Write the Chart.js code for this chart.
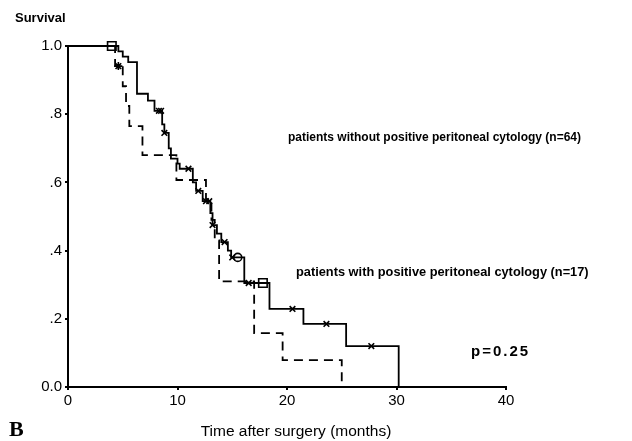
<!DOCTYPE html>
<html>
<head>
<meta charset="utf-8">
<script src="https://cdn.jsdelivr.net/npm/chart.js@4"></script>
<style>
  html, body { margin: 0; padding: 0; background: #fff; }
  canvas { display: block; }
</style>
</head>
<body>
<canvas id="km" width="632" height="441"></canvas>
<script>
// patients without positive peritoneal cytology (n=64) - solid
const solidTime = [0, 4.6, 5.0, 5.5, 6.3, 7.3, 7.9, 8.6, 8.8, 9.2, 9.4, 10.0, 10.2, 11.4, 11.7, 12.3, 13.0, 13.2, 13.6, 14.0, 14.6, 14.9, 16.1, 18.4, 21.5, 25.4, 30.2];
const solidSurv = [1.0, 0.984, 0.969, 0.953, 0.86, 0.84, 0.81, 0.77, 0.745, 0.70, 0.67, 0.655, 0.64, 0.60, 0.575, 0.545, 0.51, 0.475, 0.45, 0.425, 0.40, 0.38, 0.305, 0.229, 0.185, 0.12, 0];
const solidCensorTime = [4.0, 8.3, 8.5, 8.8, 11.0, 11.9, 12.6, 12.9, 13.2, 14.3, 15.0, 15.5, 16.5, 17.8, 20.5, 23.6, 27.7];
const solidCensorSurv = [1.0, 0.81, 0.81, 0.745, 0.64, 0.575, 0.545, 0.545, 0.475, 0.425, 0.38, 0.38, 0.305, 0.305, 0.229, 0.185, 0.12];
const solidCensorMark = ['rect', 'crossRot', 'crossRot', 'crossRot', 'crossRot', 'crossRot', 'crossRot', 'crossRot', 'crossRot', 'crossRot', 'crossRot', 'circle', 'crossRot', 'rect', 'crossRot', 'crossRot', 'crossRot'];

// patients with positive peritoneal cytology (n=17) - dashed
const dashedTime = [0, 4.3, 5.0, 5.3, 5.6, 6.8, 9.9, 12.6, 13.1, 13.4, 13.8, 17.0, 19.6, 25.0];
const dashedSurv = [1.0, 0.941, 0.882, 0.824, 0.765, 0.68, 0.607, 0.55, 0.49, 0.43, 0.31, 0.158, 0.079, 0];
const dashedCensorTime = [4.6];
const dashedCensorSurv = [0.941];

const xTicks = [0, 10, 20, 30, 40];
const yTickLabels = ['0.0', '.2', '.4', '.6', '.8', '1.0'];

const labelTexts = [
  'patients without positive peritoneal cytology (n=64)',
  'patients with positive peritoneal cytology (n=17)',
  'p=0.25'
];

const pts = (xs, ys) => xs.map((x, i) => ({ x: x, y: ys[i] }));

const tickFont = { family: '"Liberation Sans Narrow", "Liberation Sans", Arial, sans-serif', size: 15 };

const textPlugin = {
  id: 'texts',
  afterDraw(chart) {
    const c = chart.ctx;
    c.save();
    c.fillStyle = '#000';
    c.textBaseline = 'middle';
    c.textAlign = 'left';
    c.font = '600 13px "Liberation Sans", Arial, sans-serif';
    c.fillText('Survival', 15, 18);
    c.font = '600 12px "Liberation Sans", Arial, sans-serif';
    c.fillText(labelTexts[0], 288, 138);
    c.font = '600 12.8px "Liberation Sans", Arial, sans-serif';
    c.fillText(labelTexts[1], 296, 272);
    c.font = '600 15px "Liberation Sans", Arial, sans-serif';
    c.letterSpacing = '2px';
    c.fillText(labelTexts[2], 471, 352);
    c.letterSpacing = '0px';
    c.font = '15.5px "Liberation Sans", Arial, sans-serif';
    c.textAlign = 'center';
    c.fillText('Time after surgery (months)', 296, 432);
    c.font = 'bold 22px "Liberation Serif", "Times New Roman", serif';
    c.textAlign = 'left';
    c.fillText('B', 9, 430);
    c.restore();
  }
};

new Chart(document.getElementById('km'), {
  type: 'scatter',
  data: {
    datasets: [
      {
        label: 'without',
        data: pts(solidTime, solidSurv),
        showLine: true,
        stepped: true,
        borderColor: '#000',
        borderWidth: 1.8,
        pointRadius: 0,
        clip: false
      },
      {
        label: 'with',
        data: pts(dashedTime, dashedSurv),
        showLine: true,
        stepped: true,
        borderColor: '#000',
        borderWidth: 1.8,
        borderDash: [9, 6],
        pointRadius: 0,
        clip: false
      },
      {
        label: 'without censored',
        data: pts(solidCensorTime, solidCensorSurv),
        showLine: false,
        pointStyle: ctx => solidCensorMark[ctx.dataIndex],
        pointRadius: ctx => solidCensorMark[ctx.dataIndex] === 'rect' ? 6 : 4,
        pointBorderColor: '#000',
        pointBackgroundColor: 'rgba(0,0,0,0)',
        pointBorderWidth: 1.6,
        clip: false
      },
      {
        label: 'with censored',
        data: pts(dashedCensorTime, dashedCensorSurv),
        showLine: false,
        pointStyle: 'star',
        pointRadius: 4,
        pointBorderColor: '#000',
        pointBorderWidth: 1.6,
        clip: false
      }
    ]
  },
  options: {
    responsive: false,
    animation: false,
    events: [],
    layout: { padding: { left: 0, top: 46, right: 126, bottom: 0 } },
    plugins: {
      legend: { display: false },
      tooltip: { enabled: false }
    },
    scales: {
      x: {
        type: 'linear',
        min: 0,
        max: 40,
        afterBuildTicks: s => { s.ticks = xTicks.map(v => ({ value: v })); },
        afterFit: s => { s.height = 54; },
        border: { display: true, color: '#000', width: 2 },
        grid: { drawOnChartArea: false, color: '#000', tickLength: 3, lineWidth: 2 },
        ticks: { color: '#000', font: tickFont, padding: 2, maxRotation: 0 }
      },
      y: {
        type: 'linear',
        min: 0,
        max: 1.0,
        ticks: {
          stepSize: 0.2,
          color: '#000',
          font: tickFont,
          padding: 3,
          callback: (v, i) => yTickLabels[i]
        },
        afterFit: s => { s.width = 68; },
        border: { display: true, color: '#000', width: 2 },
        grid: { drawOnChartArea: false, color: '#000', tickLength: 3, lineWidth: 2 }
      }
    }
  },
  plugins: [textPlugin]
});
</script>
</body>
</html>
